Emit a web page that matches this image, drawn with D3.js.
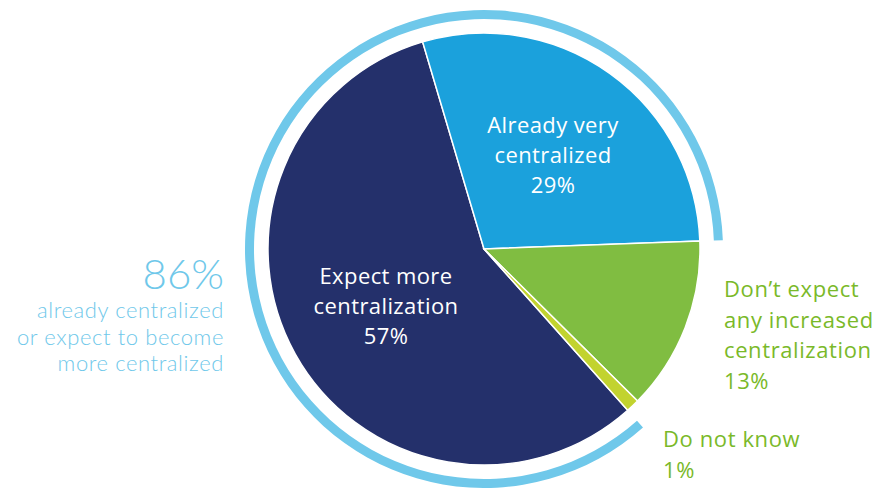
<!DOCTYPE html>
<html>
<head>
<meta charset="utf-8">
<script src="https://cdn.jsdelivr.net/npm/d3@7"></script>
<style>
  body { margin: 0; background: #fff; }
  text { font-family: "Open Sans", "Noto Sans", sans-serif; }
  text.total { font-family: Lato, "Open Sans", sans-serif; }
</style>
</head>
<body>
<div id="wrapper"></div>
<script>
// data
const categories = ["Expect more centralization", "Already very centralized", "Don\u2019t expect any increased centralization", "Do not know"];
const values = [57, 29, 13, 1];
const labelLines = [
    ["Expect more", "centralization", "57%"],
    ["Already very", "centralized", "29%"],
    ["Don\u2019t expect", "any increased", "centralization", "13%"],
    ["Do not know", "1%"]
];
const colors = ["#24306b", "#1ba1dc", "#80bd41", "#c2d32f"];
const totalValue = 86;
const totalLines = ["already centralized", "or expect to become", "more centralized"];

let dimension = {
    width: 886,
    height: 488,
    cx: 484,
    cy: 249,
    radius: 216
}

const svg = d3.select("#wrapper").append("svg")
    .attr("width", dimension.width)
    .attr("height", dimension.height);

const bounds = svg.append("g")
    .attr("transform", `translate(${dimension.cx},${dimension.cy})`);

// navy slice starts at the top-left boundary and runs clockwise round to the blue one
const startAngle = 138.3 * Math.PI / 180;
const pie = d3.pie()
    .sort(null)
    .startAngle(startAngle)
    .endAngle(startAngle + 2 * Math.PI);

const arcs = pie(values);
const arcGen = d3.arc().innerRadius(0).outerRadius(dimension.radius);

bounds.selectAll("path.slice")
    .data(arcs)
    .enter()
    .append("path")
    .attr("class", "slice")
    .attr("d", arcGen)
    .attr("fill", (d, i) => colors[i])
    .attr("stroke", "#fff")
    .attr("stroke-width", 1.5);

// outer ring around navy + blue (the 86%)
const ringArc = d3.arc().innerRadius(230).outerRadius(239);
bounds.append("path")
    .attr("d", ringArc({ startAngle: arcs[0].startAngle, endAngle: arcs[1].endAngle }))
    .attr("fill", "#6fc8ea");

// labels inside the pie
const insidePos = [[-98, 35], [69, -116]];
[0, 1].forEach(i => {
    const t = bounds.append("text")
        .attr("text-anchor", "middle")
        .attr("fill", "#fff")
        .attr("font-size", 22)
        .attr("letter-spacing", 0.4);
    labelLines[i].forEach((s, j) => {
        t.append("tspan")
            .attr("x", insidePos[i][0])
            .attr("y", insidePos[i][1] + j * 30)
            .text(s);
    });
});

// labels outside on the right
const outsidePos = [[724, 297], [663, 447]];
[2, 3].forEach((i, k) => {
    const t = svg.append("text")
        .attr("fill", "#7ab929")
        .attr("font-size", 22)
        .attr("letter-spacing", 0.6);
    labelLines[i].forEach((s, j) => {
        t.append("tspan")
            .attr("x", outsidePos[k][0])
            .attr("y", outsidePos[k][1] + j * 30.5)
            .text(s);
    });
});

// total on the left
svg.append("text")
    .attr("class", "total")
    .attr("x", 224)
    .attr("y", 289)
    .attr("text-anchor", "end")
    .attr("fill", "#6fc8ea")
    .attr("font-size", 42)
    .attr("font-weight", 300)
    .text(totalValue + "%");

const tot = svg.append("text")
    .attr("class", "total")
    .attr("text-anchor", "end")
    .attr("fill", "#6fc8ea")
    .attr("font-size", 22)
    .attr("font-weight", 300)
    .attr("letter-spacing", 0.6);
totalLines.forEach((s, j) => {
    tot.append("tspan")
        .attr("x", 224)
        .attr("y", 318 + j * 26.5)
        .text(s);
});
</script>
</body>
</html>
